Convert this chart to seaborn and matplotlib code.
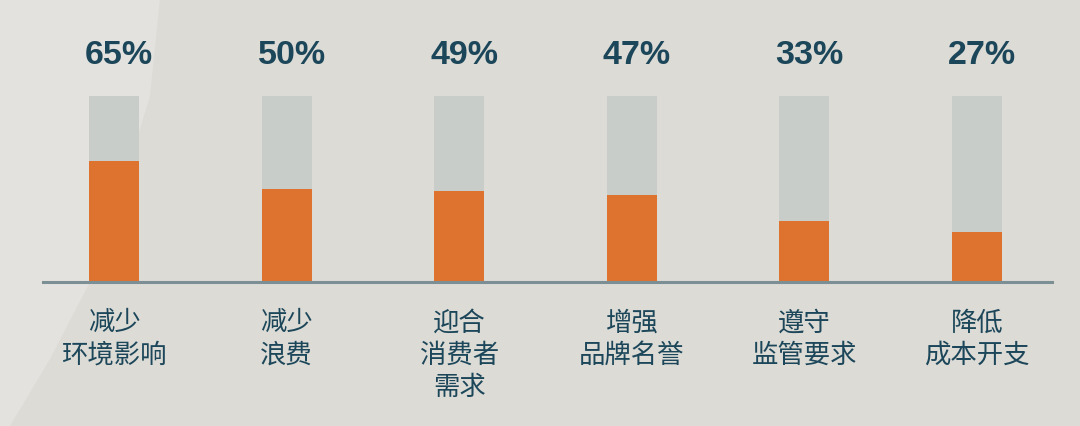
import numpy as np
import pandas as pd
import matplotlib
matplotlib.use("Agg")
import matplotlib.pyplot as plt
from matplotlib.patches import Polygon
import seaborn as sns

categories = ["减少\n环境影响", "减少\n浪费", "迎合\n消费者\n需求", "增强\n品牌名誉", "遵守\n监管要求", "降低\n成本开支"]
values = [65, 50, 49, 47, 33, 27]
full = [100, 100, 100, 100, 100, 100]
labels = ["65%", "50%", "49%", "47%", "33%", "27%"]

bg = "#dcdbd6"
orange = "#de7330"
track = "#c8cdca"
navy = "#1c4659"
axis_col = "#7b8f94"

sns.set_theme(style="white")
plt.rcParams["font.family"] = ["Noto Sans CJK SC", "DejaVu Sans"]

df = pd.DataFrame({"cat": categories, "value": values, "full": full})

fig = plt.figure(figsize=(10.8, 4.27), dpi=100)
fig.patch.set_facecolor(bg)

# background axes with the lighter curved panel on the left
W, H = 1080, 427
bg_ax = fig.add_axes([0, 0, 1, 1], zorder=-1)
bg_ax.set_xlim(0, W)
bg_ax.set_ylim(H, 0)
bg_ax.axis("off")
pts = [(0, 0), (160, 0), (150, 97), (125, 180), (90, 283), (50, 360), (10, 427), (0, 427)]
bg_ax.add_patch(Polygon(pts, closed=True, facecolor="#e3e2de", edgecolor="none"))

ax = fig.add_axes([43 / W, 144 / H, (1052 - 43) / W, 186 / H], zorder=1)
ax.set_facecolor("none")

sns.barplot(data=df, x="cat", y="full", color=track, width=0.29, saturation=1,
            linewidth=0, edgecolor="none", ax=ax, zorder=1)
sns.barplot(data=df, x="cat", y="value", color=orange, width=0.29, saturation=1,
            linewidth=0, edgecolor="none", ax=ax, zorder=2)

ax.set_xlim(-0.411, 5.434)
ax.set_ylim(0, 100)

# percent labels sit a touch right of the bar centres in the original
for i, lab in enumerate(labels):
    ax.text(i + 0.03, 122.5, lab, ha="center", va="center", fontsize=24.5, fontweight="bold",
            color=navy, family=["Liberation Sans"], clip_on=False)

ax.set_xlabel("")
ax.set_ylabel("")
ax.set_yticks([])
ax.set_xticks(range(len(categories)))
ax.set_xticklabels(categories, fontsize=19, color=navy, linespacing=1.25, va="top")
ax.tick_params(axis="x", length=0, pad=19)

for s in ["top", "left", "right"]:
    ax.spines[s].set_visible(False)
ax.spines["bottom"].set_color(axis_col)
ax.spines["bottom"].set_linewidth(2.2)
ax.spines["bottom"].set_zorder(3)

fig.savefig("out.png", dpi=100, facecolor=bg)
